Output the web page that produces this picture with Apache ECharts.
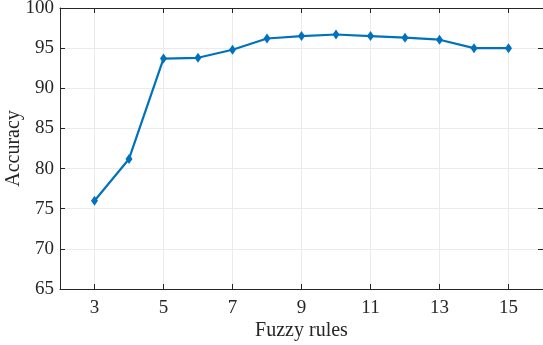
<!DOCTYPE html>
<html>
<head>
<meta charset="utf-8">
<script src="https://cdn.jsdelivr.net/npm/echarts@6/dist/echarts.min.js"></script>
<style>html,body{margin:0;padding:0;background:#fff}#c{width:543px;height:345px}</style>
</head>
<body>
<div id="c"></div>
<script>
const fuzzyRules = [3, 4, 5, 6, 7, 8, 9, 10, 11, 12, 13, 14, 15];
const accuracy = [76.0, 81.2, 93.7, 93.8, 94.8, 96.2, 96.5, 96.7, 96.5, 96.3, 96.05, 95.0, 95.0];
const xTicks = [3, 5, 7, 9, 11, 13, 15];
const xTitle = 'Fuzzy rules';
const yTitle = 'Accuracy';

const font = 'Liberation Serif';
const axisColor = '#262626';
const chart = echarts.init(document.getElementById('c'), null, {renderer: 'canvas'});
const seriesData = fuzzyRules.map((x, i) => [x, accuracy[i]]);
const gridLine = {show: true, lineStyle: {color: '#ebebeb', width: 1}};
chart.setOption({
  animation: false,
  grid: {left: 60, right: 0, top: 8, bottom: 56, containLabel: false, outerBoundsMode: 'none'},
  xAxis: [{
    type: 'value', min: 2, max: 16, position: 'bottom',
    name: xTitle, nameLocation: 'middle', nameGap: 32, nameMoveOverlap: false,
    nameTextStyle: {fontFamily: font, fontSize: 20, color: axisColor},
    axisLine: {show: true, onZero: false, lineStyle: {color: axisColor, width: 1}},
    axisTick: {show: true, inside: true, length: 5, customValues: xTicks, lineStyle: {color: axisColor}},
    axisLabel: {customValues: xTicks, fontFamily: font, fontSize: 19, color: axisColor, margin: 10},
    splitLine: gridLine
  }, {
    type: 'value', min: 2, max: 16, position: 'top',
    axisLine: {show: true, onZero: false, lineStyle: {color: axisColor, width: 1}},
    axisTick: {show: true, inside: true, length: 5, customValues: xTicks, lineStyle: {color: axisColor}},
    axisLabel: {show: false},
    splitLine: {show: false}
  }],
  yAxis: [{
    type: 'value', min: 65, max: 100, interval: 5, position: 'left',
    name: yTitle, nameLocation: 'middle', nameGap: 36, nameMoveOverlap: false,
    nameTextStyle: {fontFamily: font, fontSize: 20, color: axisColor},
    axisLine: {show: true, onZero: false, lineStyle: {color: axisColor, width: 1}},
    axisTick: {show: true, inside: true, length: 5, lineStyle: {color: axisColor}},
    axisLabel: {fontFamily: font, fontSize: 19, color: axisColor, margin: 6},
    splitLine: gridLine
  }, {
    type: 'value', min: 65, max: 100, interval: 5, position: 'right',
    axisLine: {show: true, onZero: false, lineStyle: {color: axisColor, width: 1}},
    axisTick: {show: true, inside: true, length: 5, lineStyle: {color: axisColor}},
    axisLabel: {show: false},
    splitLine: {show: false}
  }],
  series: [{
    type: 'line',
    data: seriesData,
    xAxisIndex: 0, yAxisIndex: 0,
    symbol: 'diamond', symbolSize: [7, 10],
    lineStyle: {color: '#0072BD', width: 2.2},
    itemStyle: {color: '#0072BD'}
  }]
});
</script>
</body>
</html>
